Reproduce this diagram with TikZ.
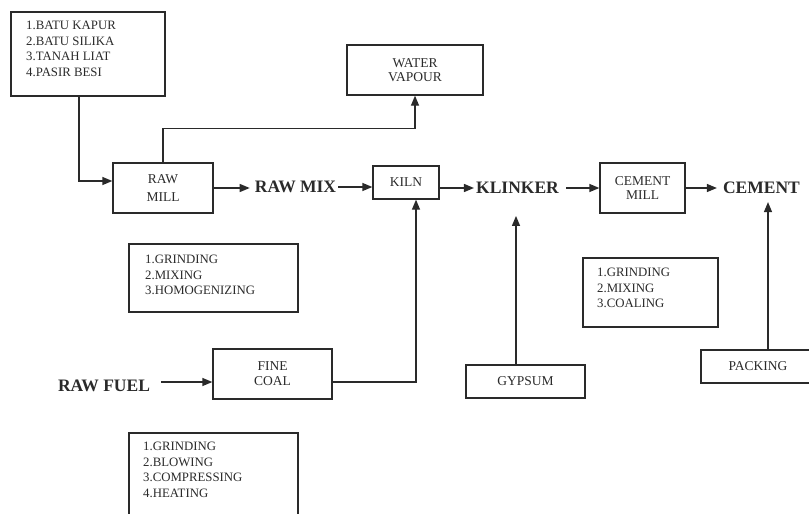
\documentclass[tikz,border=0pt]{standalone}
\usepackage{fontspec}
\setmainfont{Liberation Serif}
\usetikzlibrary{arrows.meta}
\definecolor{ink}{HTML}{2A2A2A}
\begin{document}
\begin{tikzpicture}[x=1pt,y=-1pt,
  box/.style={draw=ink, line width=1.3pt, rectangle, inner sep=0pt, text=ink,
    font=\fontsize{13.5}{14}\selectfont, align=center},
  big/.style={font=\fontsize{17.5}{20}\selectfont\bfseries, inner xsep=2pt, inner ysep=3pt, text=ink},
  lst/.style={font=\fontsize{12.8}{15.5}\selectfont, align=left, anchor=north west, inner sep=0pt, text=ink},
  arr/.style={line width=1.3pt, draw=ink, -{Triangle[length=10pt,width=8pt]}},
  ln/.style={line width=1.3pt, draw=ink}]
\useasboundingbox (0,0) rectangle (809,514);

% boxes
\node[box, minimum width=154, minimum height=84] (src) at (88,54) {};
\node[lst] (srct) at (26,21) {1.BATU KAPUR\\2.BATU SILIKA\\3.TANAH LIAT\\4.PASIR BESI};

\node[box, minimum width=100, minimum height=50, font=\fontsize{13.5}{18}\selectfont] (rawmill) at (163,188) {RAW\\MILL};
\node[box, minimum width=136, minimum height=50, font=\fontsize{13.5}{13.5}\selectfont] (water) at (415,70) {WATER\\VAPOUR};
\node[box, minimum width=66, minimum height=33] (kiln) at (406,182.5) {KILN};
\node[box, minimum width=85, minimum height=50] (cmill) at (642.5,188) {CEMENT\\MILL};
\node[box, minimum width=119, minimum height=50, font=\fontsize{13.5}{15}\selectfont] (fcoal) at (272.5,374) {FINE\\COAL};
\node[box, minimum width=119, minimum height=33] (gyp) at (525.5,381.5) {GYPSUM};
\node[box, minimum width=114, minimum height=33] (pack) at (758,366.5) {PACKING};

\node[box, minimum width=169, minimum height=68] (grind1) at (213.5,278) {};
\node[lst] (grind1t) at (145,255) {1.GRINDING\\2.MIXING\\3.HOMOGENIZING};
\node[box, minimum width=135, minimum height=69] (coal3) at (650.5,292.5) {};
\node[lst] (coal3t) at (597,268) {1.GRINDING\\2.MIXING\\3.COALING};
\node[box, minimum width=169, minimum height=87] (grind2) at (213.5,476.5) {};
\node[lst] (grind2t) at (143,442) {1.GRINDING\\2.BLOWING\\3.COMPRESSING\\4.HEATING};

% big labels
\node[big] (rawmix) at (295.5,187) {RAW MIX};
\node[big] (klinker) at (517.5,188) {KLINKER};
\node[big] (cement) at (761.5,188) {CEMENT};
\node[big] (rawfuel) at (104,386) {RAW FUEL};

% connectors
\draw[arr] ([xshift=-9pt]src.south) |- ([yshift=7pt]rawmill.west);
\draw[arr] (rawmill.north) -- ++(0,-34) -| (water.south);
\draw[arr, shorten >=3pt] (rawmill.east) -- (rawmill.east -| rawmix.west);
\draw[arr] (rawmix.east) -- (rawmix.east -| kiln.west);
\draw[arr] (klinker.west -| kiln.east) -- (klinker.west);
\draw[arr, shorten <=5pt] (klinker.east) -- (cmill.west);
\draw[arr, shorten >=4pt] (cmill.east) -- (cement.west);
\draw[arr, shorten >=5pt] ([xshift=10pt]pack.north) -- ([xshift=10pt]pack.north |- cement.south);
\draw[arr, shorten >=19pt] ([xshift=-9.5pt]gyp.north) -- ([xshift=-9.5pt]gyp.north |- klinker.south);
\draw[arr] ([yshift=-8pt]fcoal.east) -| ([xshift=10pt]kiln.south);
\coordinate (fy) at ([yshift=-8pt]fcoal.west);
\draw[arr, shorten <=9pt] (fy -| rawfuel.east) -- (fy);
\end{tikzpicture}
\end{document}
